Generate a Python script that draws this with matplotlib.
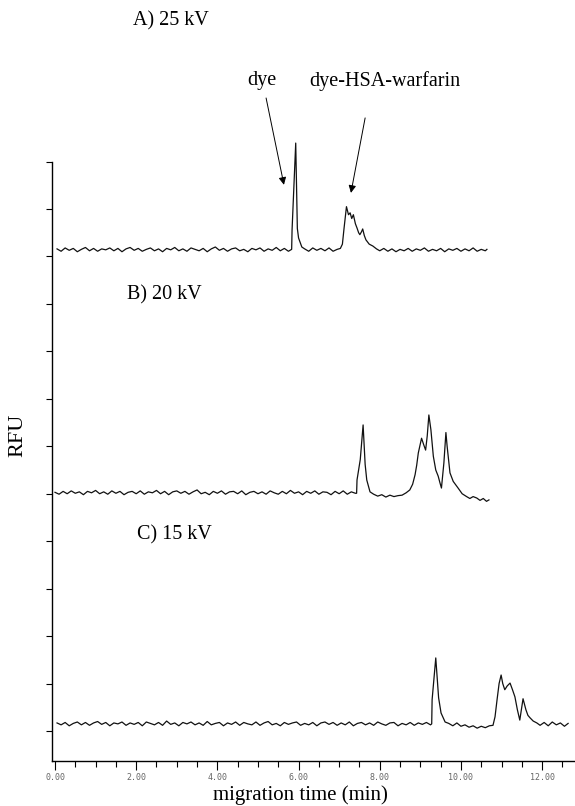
import numpy as np
import matplotlib.pyplot as plt

# migration time (min) and signal above baseline (RFU, tick units)
# A) 25 kV
a_time = [0.05, 0.15, 0.25, 0.35, 0.45, 0.55, 0.65, 0.75, 0.85, 0.95,
          1.05, 1.15, 1.25, 1.35, 1.45, 1.55, 1.65, 1.75, 1.85, 1.95,
          2.05, 2.15, 2.25, 2.35, 2.45, 2.55, 2.65, 2.75, 2.85, 2.95,
          3.05, 3.15, 3.25, 3.35, 3.45, 3.55, 3.65, 3.75, 3.85, 3.95,
          4.05, 4.15, 4.25, 4.35, 4.45, 4.55, 4.65, 4.75, 4.85, 4.95,
          5.05, 5.15, 5.25, 5.35, 5.45, 5.55, 5.65, 5.75,
          5.83, 5.84, 5.93, 5.97, 6.00, 6.08,
          6.15, 6.25, 6.35, 6.45, 6.55, 6.65, 6.75, 6.85, 6.95,
          7.03, 7.08, 7.12, 7.18, 7.23, 7.27, 7.31, 7.35, 7.40, 7.44,
          7.48, 7.51, 7.55, 7.58, 7.62, 7.66, 7.74, 7.83, 7.92,
          8.0, 8.1, 8.2, 8.3, 8.4, 8.5, 8.6, 8.7, 8.8, 8.9,
          9.0, 9.1, 9.2, 9.3, 9.4, 9.5, 9.6, 9.7, 9.8, 9.9,
          10.0, 10.1, 10.2, 10.3, 10.4, 10.5, 10.6, 10.64]
a_rfu = [0.02, -0.03, 0.04, -0.01, 0.03, -0.04, 0.01, 0.05, -0.02, 0.03,
         -0.03, 0.02, 0.00, 0.04, -0.02, 0.03, -0.04, 0.02, 0.05, -0.01,
         0.03, -0.03, 0.01, 0.04, -0.02, 0.02, -0.04, 0.03, 0.00, 0.05,
         -0.02, 0.02, -0.03, 0.04, 0.01, -0.02, 0.03, -0.04, 0.02, 0.06,
         -0.01, 0.03, -0.03, 0.02, 0.04, -0.02, 0.01, -0.04, 0.03, 0.00,
         0.04, -0.03, 0.02, -0.01, 0.05, -0.02, 0.03, -0.03,
         0.01, 0.42, 2.25, 0.45, 0.25, 0.06,
         0.02, -0.03, 0.04, -0.01, 0.03, -0.02, 0.04, -0.03, 0.01,
         0.03, 0.12, 0.45, 0.91, 0.74, 0.78, 0.66, 0.74, 0.55, 0.46,
         0.36, 0.32, 0.38, 0.44, 0.30, 0.21, 0.12, 0.08, 0.02,
         -0.02, 0.03, -0.03, 0.02, -0.04, 0.01, -0.02, 0.03, -0.03, 0.02,
         -0.01, 0.04, -0.03, 0.01, -0.02, 0.03, -0.04, 0.02, -0.01, 0.03,
         -0.03, 0.02, -0.02, 0.04, -0.03, 0.01, -0.02, 0.01]
a_offset = 10.14

# B) 20 kV
b_time = [0.0, 0.1, 0.2, 0.3, 0.4, 0.5, 0.6, 0.7, 0.8, 0.9,
          1.0, 1.1, 1.2, 1.3, 1.4, 1.5, 1.6, 1.7, 1.8, 1.9,
          2.0, 2.1, 2.2, 2.3, 2.4, 2.5, 2.6, 2.7, 2.8, 2.9,
          3.0, 3.1, 3.2, 3.3, 3.4, 3.5, 3.6, 3.7, 3.8, 3.9,
          4.0, 4.1, 4.2, 4.3, 4.4, 4.5, 4.6, 4.7, 4.8, 4.9,
          5.0, 5.1, 5.2, 5.3, 5.4, 5.5, 5.6, 5.7, 5.8, 5.9,
          6.0, 6.1, 6.2, 6.3, 6.4, 6.5, 6.6, 6.7, 6.8, 6.9,
          7.0, 7.1, 7.2, 7.3, 7.4,
          7.43, 7.44, 7.52, 7.59, 7.64, 7.68, 7.76,
          7.85, 7.95, 8.05, 8.15, 8.25, 8.35, 8.45,
          8.55, 8.65, 8.74, 8.81, 8.87, 8.91, 8.95, 9.03, 9.08, 9.13,
          9.17, 9.21, 9.26, 9.32, 9.38, 9.44, 9.48, 9.52, 9.58, 9.63,
          9.66, 9.73, 9.81, 9.93, 10.03, 10.14, 10.22, 10.30, 10.39, 10.47,
          10.55, 10.63, 10.69]
b_rfu = [0.01, -0.03, 0.03, -0.02, 0.04, -0.01, 0.02, -0.04, 0.03, 0.00,
         0.05, -0.02, 0.02, -0.03, 0.04, -0.01, 0.03, -0.04, 0.01, 0.03,
         -0.02, 0.04, -0.03, 0.02, 0.00, 0.05, -0.02, 0.03, -0.04, 0.02,
         0.04, -0.01, 0.03, -0.03, 0.02, 0.06, -0.02, 0.01, -0.04, 0.03,
         -0.01, 0.04, -0.03, 0.02, 0.03, -0.02, 0.04, -0.04, 0.01, 0.03,
         -0.02, 0.02, -0.03, 0.04, 0.00, -0.03, 0.03, -0.02, 0.05, -0.01,
         0.02, -0.04, 0.03, -0.01, 0.04, -0.03, 0.02, 0.01, -0.04, 0.03,
         -0.02, 0.04, -0.03, 0.02, -0.01,
         -0.01, 0.27, 0.70, 1.43, 0.60, 0.27, 0.02,
         -0.03, -0.07, -0.04, -0.09, -0.05, -0.08, -0.06,
         -0.05, 0.00, 0.06, 0.18, 0.38, 0.58, 0.84, 1.15, 1.02, 0.90,
         1.20, 1.64, 1.33, 0.77, 0.48, 0.35, 0.22, 0.10, 0.63, 1.27,
         0.98, 0.42, 0.24, 0.10, -0.02, -0.08, -0.12, -0.08, -0.11, -0.16,
         -0.12, -0.18, -0.15]
b_offset = 5.02

# C) 15 kV
c_time = [0.05, 0.15, 0.25, 0.35, 0.45, 0.55, 0.65, 0.75, 0.85, 0.95,
          1.05, 1.15, 1.25, 1.35, 1.45, 1.55, 1.65, 1.75, 1.85, 1.95,
          2.05, 2.15, 2.25, 2.35, 2.45, 2.55, 2.65, 2.75, 2.85, 2.95,
          3.05, 3.15, 3.25, 3.35, 3.45, 3.55, 3.65, 3.75, 3.85, 3.95,
          4.05, 4.15, 4.25, 4.35, 4.45, 4.55, 4.65, 4.75, 4.85, 4.95,
          5.05, 5.15, 5.25, 5.35, 5.45, 5.55, 5.65, 5.75, 5.85, 5.95,
          6.05, 6.15, 6.25, 6.35, 6.45, 6.55, 6.65, 6.75, 6.85, 6.95,
          7.05, 7.15, 7.25, 7.35, 7.45, 7.55, 7.65, 7.75, 7.85, 7.95,
          8.05, 8.15, 8.25, 8.35, 8.45, 8.55, 8.65, 8.75, 8.85, 8.95,
          9.05, 9.15, 9.25,
          9.28, 9.29, 9.38, 9.45, 9.51, 9.61,
          9.7, 9.8, 9.9, 10.0, 10.1, 10.2, 10.3, 10.4, 10.5, 10.6, 10.7,
          10.79, 10.84, 10.89, 10.94, 10.99, 11.03, 11.08, 11.14, 11.21, 11.27,
          11.33, 11.39, 11.45, 11.49, 11.53, 11.60, 11.65, 11.70, 11.78, 11.87,
          11.95, 12.05, 12.15, 12.25, 12.35, 12.45, 12.55, 12.64]
c_rfu = [0.02, -0.02, 0.03, -0.04, 0.01, 0.04, -0.02, 0.03, -0.03, 0.02,
         0.05, -0.01, 0.03, -0.04, 0.02, 0.00, 0.04, -0.03, 0.02, -0.01,
         0.03, -0.04, 0.04, 0.01, -0.02, 0.03, -0.03, 0.06, -0.01, 0.02,
         -0.04, 0.03, 0.00, 0.04, -0.02, 0.02, -0.03, 0.05, -0.02, 0.01,
         0.03, -0.04, 0.02, -0.01, 0.04, -0.03, 0.03, 0.00, -0.02, 0.04,
         -0.03, 0.02, 0.05, -0.02, 0.01, -0.04, 0.03, -0.01, 0.02, 0.04,
         -0.03, 0.01, -0.02, 0.03, -0.04, 0.02, 0.04, -0.01, 0.03, -0.03,
         0.02, -0.02, 0.04, -0.04, 0.01, 0.03, -0.02, 0.02, -0.03, 0.04,
         0.00, -0.03, 0.02, 0.03, -0.04, 0.01, -0.02, 0.03, -0.03, 0.02,
         -0.01, 0.03, -0.02,
         0.00, 0.51, 1.39, 0.55, 0.23, 0.04,
         0.01, -0.04, 0.02, -0.05, -0.02, -0.07, -0.04, -0.09, -0.05, -0.08, -0.04,
         -0.03, 0.15, 0.51, 0.85, 1.03, 0.85, 0.72, 0.80, 0.86, 0.72,
         0.57, 0.30, 0.08, 0.30, 0.53, 0.30, 0.18, 0.13, 0.06, 0.02,
         -0.03, 0.03, -0.04, 0.04, -0.02, 0.02, -0.05, 0.01]
c_offset = 0.15

x_major = [0, 2, 4, 6, 8, 10, 12]
x_labels = ["0.00", "2.00", "4.00", "6.00", "8.00", "10.00", "12.00"]
x_minor = np.arange(0, 12.6, 0.5)
y_ticks = list(range(13))

serif = "Liberation Serif"
W, H = 575, 806

fig = plt.figure(figsize=(W / 100, H / 100), dpi=100)
ax = fig.add_axes([52 / W, 45 / H, 523 / W, (761 - 133.1) / H])

for t, v, off in [(a_time, a_rfu, a_offset), (b_time, b_rfu, b_offset), (c_time, c_rfu, c_offset)]:
    ax.plot(t, np.array(v) + off, color="#111111", lw=0.9, clip_on=False)

ax.set_xlim(-0.074, 12.81)
ax.set_ylim(-0.632, 12.6)
ax.spines["top"].set_visible(False)
ax.spines["right"].set_visible(False)
ax.spines["left"].set_bounds(-0.632, 12)
ax.spines["left"].set_linewidth(1.0)
ax.spines["bottom"].set_linewidth(1.0)

ax.set_xticks(x_major)
ax.set_xticklabels(x_labels, fontfamily="DejaVu Sans Mono", fontsize=6, color="#666666")
ax.set_xticks(x_minor, minor=True)
ax.tick_params(axis="x", which="major", length=6.5, width=0.8, pad=2)
ax.tick_params(axis="x", which="minor", length=4, width=0.8)
ax.set_yticks(y_ticks)
ax.set_yticklabels([])
ax.tick_params(axis="y", length=4.3, width=0.8)

fig.text(18 / W, 1 - 435 / H, "RFU", rotation=90, ha="center", va="center", fontsize=16, fontfamily=serif)
fig.text(300 / W, 1 - 795 / H, "migration time (min)", ha="center", va="center", fontsize=15, fontfamily=serif)

fig.text(133 / W, 1 - 21 / H, "A) 25 kV", va="center", fontsize=14.5, fontfamily=serif)
fig.text(127 / W, 1 - 295 / H, "B) 20 kV", va="center", fontsize=14.5, fontfamily=serif)
fig.text(137 / W, 1 - 535 / H, "C) 15 kV", va="center", fontsize=14.5, fontfamily=serif)
fig.text(247 / W, 1 - 81 / H, "dye", va="center", fontsize=14.5, fontfamily=serif)
fig.text(309 / W, 1 - 81 / H, "dye-HSA-warfarin", va="center", fontsize=14.5, fontfamily=serif)

arrow = dict(arrowstyle="-|>", color="black", lw=0.7, mutation_scale=11, shrinkA=0, shrinkB=0)
ax.annotate("", xy=(5.64, 11.51), xytext=(5.20, 13.34), arrowprops=arrow, annotation_clip=False)
ax.annotate("", xy=(7.29, 11.34), xytext=(7.64, 12.92), arrowprops=arrow, annotation_clip=False)

plt.savefig("out.png", dpi=100)
plt.close()
